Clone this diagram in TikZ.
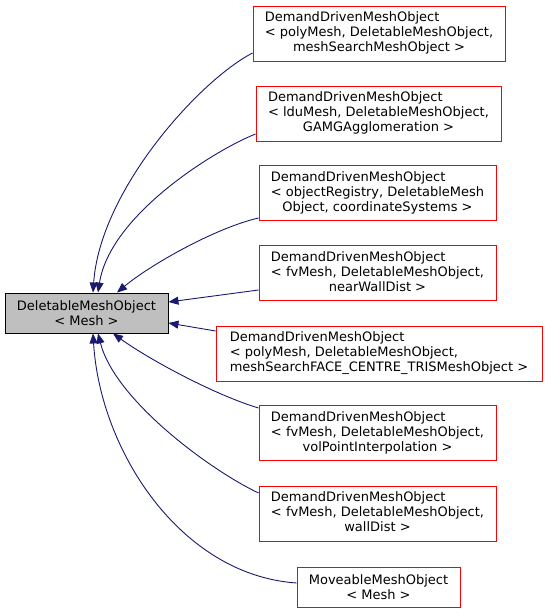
\documentclass[tikz,border=0pt]{standalone}
\usepackage{fontspec}
\setmainfont{DejaVu Sans}
\usetikzlibrary{arrows.meta}
\definecolor{edgeblue}{HTML}{191970}
\definecolor{basegray}{HTML}{BFBFBF}
\newcommand{\cls}[3]{\begin{tabular}{@{}l@{}}#1\\#2\\\multicolumn{1}{@{}c@{}}{#3}\end{tabular}}

\begin{document}
\begin{tikzpicture}[
      x=1pt, y=-1pt,
      box/.style={rectangle, draw=red, line width=0.9pt, align=center,
                  inner sep=0pt, minimum height=55pt,
                  font=\fontsize{13}{15}\selectfont},
      basebox/.style={box, draw=black, fill=basegray, minimum height=40pt},
      inh/.style={draw=edgeblue, line width=0.9pt,
                  -{Triangle[length=10pt, width=8pt]}}
    ]

    \useasboundingbox (0,0) rectangle (547,613);

    \node[basebox, minimum width=163pt] (base) at (86.5,313) {DeletableMeshObject\\< Mesh >};

    \node[box, minimum width=252pt] (poly) at (379,33.5)
      {\cls{DemandDrivenMeshObject}{< polyMesh, DeletableMeshObject,}{meshSearchMeshObject >}};
    \node[box, minimum width=245pt] (ldu) at (378.5,113.5)
      {\cls{DemandDrivenMeshObject}{< lduMesh, DeletableMeshObject,}{GAMGAgglomeration >}};
    \node[box, minimum width=237pt] (registry) at (377.5,193)
      {\cls{DemandDrivenMeshObject}{< objectRegistry, DeletableMesh}{Object, coordinateSystems >}};
    \node[box, minimum width=237pt] (nearwall) at (377.5,273)
      {\cls{DemandDrivenMeshObject}{< fvMesh, DeletableMeshObject,}{nearWallDist >}};
    \node[box, minimum width=326pt] (facetris) at (379,353.5)
      {\cls{DemandDrivenMeshObject}{< polyMesh, DeletableMeshObject,}{meshSearchFACE\_CENTRE\_TRISMeshObject >}};
    \node[box, minimum width=237pt] (volpoint) at (377.5,433)
      {\cls{DemandDrivenMeshObject}{< fvMesh, DeletableMeshObject,}{volPointInterpolation >}};
    \node[box, minimum width=237pt] (walldist) at (377.5,513.5)
      {\cls{DemandDrivenMeshObject}{< fvMesh, DeletableMeshObject,}{wallDist >}};
    \node[box, minimum width=163pt, minimum height=40pt] (moveable) at (378.5,587)
      {MoveableMeshObject\\< Mesh >};

    \draw[inh] ([yshift=-19.5pt]poly.west) .. controls (200,80) and (100,190) .. ([xshift=6.5pt]base.north);
    \draw[inh] ([yshift=-20.5pt]ldu.west) .. controls (215,150) and (110,215) .. ([xshift=11.5pt]base.north);
    \draw[inh] ([yshift=-25pt]registry.west) .. controls (215,228) and (150,265) .. ([xshift=30.5pt]base.north);
    \draw[inh] ([yshift=-17pt]nearwall.west) -- ([yshift=11pt]base.east);
    \draw[inh] ([yshift=22.5pt]facetris.west) -- ([yshift=-10pt]base.east);
    \draw[inh] ([yshift=25pt]volpoint.west) .. controls (215,395) and (150,360) .. ([xshift=26.5pt]base.south);
    \draw[inh] ([yshift=20.5pt]walldist.west) .. controls (210,470) and (115,400) .. ([xshift=11.5pt]base.south);
    \draw[inh] ([yshift=4pt]moveable.west) .. controls (180,575) and (100,450) .. ([xshift=6.5pt]base.south);

  \end{tikzpicture}
\end{document}
